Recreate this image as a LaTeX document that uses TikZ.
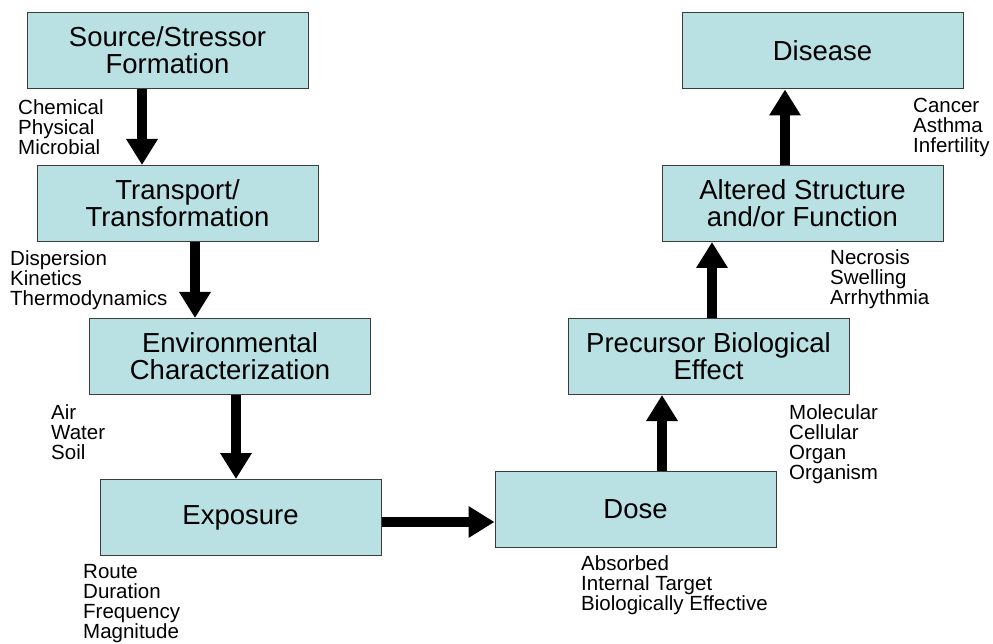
\documentclass[tikz,border=0pt]{standalone}
\usepackage{fontspec}
\setmainfont{Liberation Sans}
\usetikzlibrary{arrows.meta}
\definecolor{boxfill}{RGB}{185,224,227}
\definecolor{boxline}{RGB}{60,60,60}
\tikzset{
  stage/.style={draw=boxline, line width=1pt, fill=boxfill,
    minimum width=281pt, minimum height=76pt, inner sep=0pt,
    align=center, font=\fontsize{27.5}{27}\selectfont},
  note/.style={anchor=north west, inner sep=0pt, align=left,
    font=\fontsize{20.5}{20}\selectfont},
  flow/.style={line width=10pt, -{Triangle[width=30pt,length=26pt]}}
}
\begin{document}
\begin{tikzpicture}[x=1pt,y=-1pt]
  \useasboundingbox (0,0) rectangle (993,644);
  % stages
  \node[stage] (src)   at (167.5,50.5)  {Source/Stressor\\Formation};
  \node[stage] (trans) at (177.5,203.5) {Transport/\\Transformation};
  \node[stage] (env)   at (230,356.5)   {Environmental\\Characterization};
  \node[stage] (expo)  at (240.5,517.5) {Exposure};
  \node[stage] (dose)  at (635.5,509)   {Dose};
  \node[stage] (prec)  at (708.5,356.5) {Precursor Biological\\Effect};
  \node[stage] (alt)   at (802.5,203.5) {Altered Structure\\and/or Function};
  \node[stage] (dis)   at (822.5,51)    {Disease};
  % notes
  \node[note] (nsrc)   at (18,99)   {Chemical\\Physical\\Microbial};
  \node[note] (ntrans) at (10,250)  {Dispersion\\Kinetics\\Thermodynamics};
  \node[note] (nenv)   at (51,404)  {Air\\Water\\Soil};
  \node[note] (nexpo)  at (83,564)  {Route\\Duration\\Frequency\\Magnitude};
  \node[note] (ndose)  at (581,555) {Absorbed\\Internal Target\\Biologically Effective};
  \node[note] (nprec)  at (789,404) {Molecular\\Cellular\\Organ\\Organism};
  \node[note] (nalt)   at (830,249) {Necrosis\\Swelling\\Arrhythmia};
  \node[note] (ndis)   at (913,98)  {Cancer\\Asthma\\Infertility};
  % arrows
  \foreach \a/\b/\x in {src/trans/142, trans/env/195, env/expo/236}
    \draw[flow] (\x,0 |- \a.south) -- (\x,0 |- \b.north);
  \draw[flow] (expo.east |- 0,522) -- (dose.west |- 0,522);
  \foreach \a/\b/\x in {dose/prec/662, prec/alt/712, alt/dis/785}
    \draw[flow] (\x,0 |- \a.north) -- (\x,0 |- \b.south);
\end{tikzpicture}
\end{document}
